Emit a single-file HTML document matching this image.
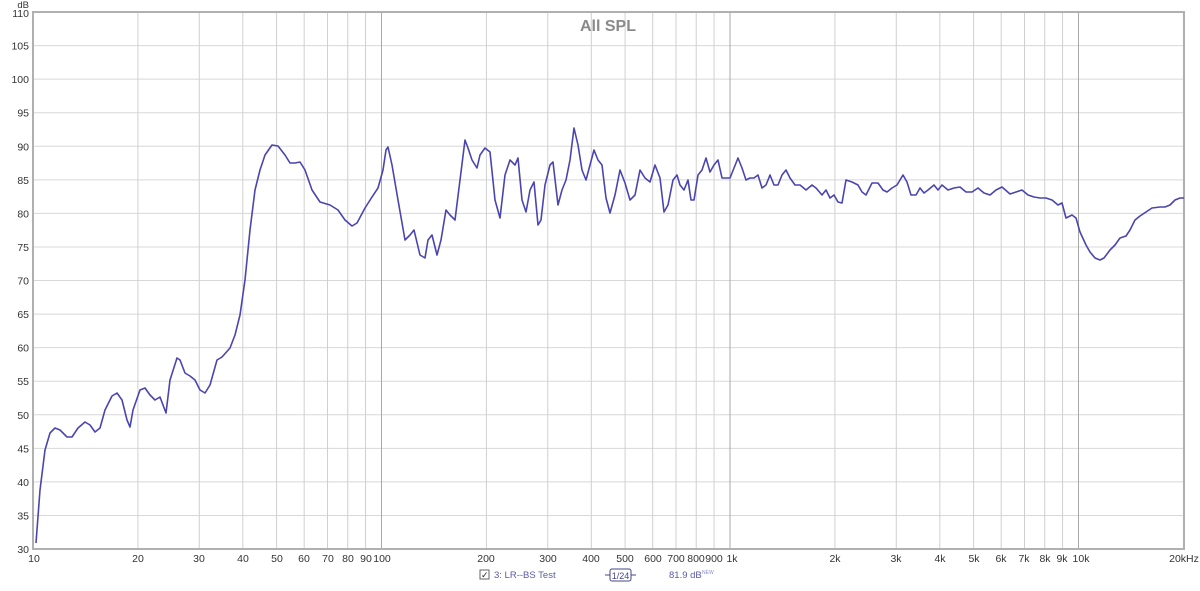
<!DOCTYPE html>
<html><head><meta charset="utf-8"><style>
html,body{margin:0;padding:0;background:#fff;}
svg text{font-family:"Liberation Sans",Arial,sans-serif;fill:#333;font-size:10.5px;}
</style></head><body>
<svg id="s" width="1200" height="586" viewBox="0 0 1200 586" xmlns="http://www.w3.org/2000/svg">
<rect width="1200" height="586" fill="#fff"/>
<g id="grid"></g>
<text x="608" y="31" text-anchor="middle" style="font-size:16px;font-weight:bold;fill:#8a8a8a">All SPL</text>
<g text-anchor="end">
<text x="29" y="8" style="font-size:9.5px">dB</text>
<text x="29" y="17">110</text><text x="29" y="49.6">105</text><text x="29" y="83.1">100</text>
<text x="29" y="116.7">95</text><text x="29" y="150.3">90</text><text x="29" y="183.8">85</text>
<text x="29" y="217.4">80</text><text x="29" y="250.9">75</text><text x="29" y="284.5">70</text>
<text x="29" y="318.1">65</text><text x="29" y="351.6">60</text><text x="29" y="385.2">55</text>
<text x="29" y="418.8">50</text><text x="29" y="452.3">45</text><text x="29" y="485.9">40</text>
<text x="29" y="519.4">35</text><text x="29" y="553">30</text>
</g>
<g text-anchor="middle">
<text x="34" y="562">10</text><text x="138" y="562">20</text><text x="199" y="562">30</text>
<text x="243" y="562">40</text><text x="277" y="562">50</text><text x="304" y="562">60</text>
<text x="328" y="562">70</text><text x="348" y="562">80</text><text x="366" y="562">90</text>
<text x="382" y="562">100</text><text x="486" y="562">200</text><text x="548" y="562">300</text>
<text x="591" y="562">400</text><text x="625" y="562">500</text><text x="653" y="562">600</text>
<text x="676" y="562">700</text><text x="696" y="562">800</text><text x="714" y="562">900</text>
<text x="732" y="562">1k</text><text x="835" y="562">2k</text><text x="896" y="562">3k</text>
<text x="940" y="562">4k</text><text x="974" y="562">5k</text><text x="1001" y="562">6k</text>
<text x="1024" y="562">7k</text><text x="1045" y="562">8k</text><text x="1062" y="562">9k</text>
<text x="1081" y="562">10k</text><text x="1184" y="562">20kHz</text>
</g>
<rect x="480" y="570" width="9" height="9" fill="#fff" stroke="#666" stroke-width="1"/>
<text x="481" y="578" style="font-size:9px;fill:#222">✓</text>
<text x="494" y="578" style="font-size:9.5px;fill:#5a5aaa">3: LR--BS Test</text>
<rect x="610" y="569" width="21" height="12" rx="2" fill="#fff" stroke="#44448a" stroke-width="1"/>
<line x1="605" y1="575" x2="610" y2="575" stroke="#44448a"/><line x1="631" y1="575" x2="636" y2="575" stroke="#44448a"/>
<text x="620.5" y="579" text-anchor="middle" style="font-size:9px;fill:#44448a">1/24</text>
<text x="669" y="578" style="font-size:9.5px;fill:#5a5aaa">81.9 dB</text>
<text x="702" y="574" style="font-size:5px;fill:#8a8acc">NEW</text>
<rect x="33" y="12" width="1151" height="537" fill="none" stroke="#b0b0b0" stroke-width="2"/>
<polyline fill="none" stroke="#4a45b0" stroke-width="1.6" stroke-linejoin="round" points="36,543 40,490 45,450 50,433 55,428 60,430 67,437 72,437 78,428 85,422 90,425 95,432 100,428 105,410 112,396 117,393 122,400 127,420 130,427 133,410 140,390 145,388 150,395 155,400 160,397 166,413 170,380 177,358 180,360 185,373 190,376 195,380 200,390 205,393 210,385 217,360 222,357 230,348 235,335 240,315 245,280 250,230 255,190 260,170 265,155 272,145 278,146 285,155 290,163 295,163 300,162 305,170 312,190 320,202 330,205 338,210 345,220 352,226 357,223 365,208 372,197 378,188 383,170 386,150 388,147 392,165 398,200 405,240 410,235 414,230 420,255 425,258 428,240 432,235 437,255 441,240 446,210 450,215 455,220 460,180 465,140 468,148 472,160 477,168 480,155 485,148 490,152 495,200 500,218 505,175 510,160 515,165 518,158 522,200 526,212 530,190 534,182 538,225 541,220 545,185 550,165 553,162 558,205 562,190 566,180 570,160 574,128 578,145 582,170 586,180 590,165 594,150 598,160 602,165 606,198 610,213 615,195 620,170 625,183 630,200 635,195 640,170 645,178 650,182 655,165 660,178 664,212 668,205 673,180 677,175 680,185 684,190 688,180 691,200 694,200 698,175 702,170 706,158 710,172 714,165 718,160 722,178 726,178 730,178 734,168 738,158 742,168 746,180 750,178 754,178 758,175 762,188 766,185 770,175 774,185 778,185 782,175 786,170 790,178 795,185 800,185 806,190 812,185 816,188 822,195 826,190 830,198 834,195 838,202 842,203 846,180 852,182 858,185 862,192 866,195 872,183 878,183 883,190 887,192 892,188 897,185 903,175 907,182 911,195 916,195 920,188 924,193 928,190 934,185 938,190 942,185 948,190 954,188 960,187 966,192 972,192 978,188 984,193 990,195 996,190 1002,187 1010,194 1016,192 1022,190 1028,195 1034,197 1040,198 1046,198 1052,200 1058,205 1062,203 1066,218 1072,215 1076,218 1080,232 1086,245 1090,252 1095,258 1100,260 1104,258 1110,250 1115,245 1120,238 1126,236 1130,230 1135,220 1140,216 1146,212 1152,208 1160,207 1165,207 1170,205 1175,200 1180,198 1184,198"/>
</svg>
<script>
var g=document.getElementById('grid'),ns='http://www.w3.org/2000/svg';
function L(x1,y1,x2,y2,c){var l=document.createElementNS(ns,'line');l.setAttribute('x1',x1);l.setAttribute('y1',y1);l.setAttribute('x2',x2);l.setAttribute('y2',y2);l.setAttribute('stroke',c);l.setAttribute('stroke-width',1);g.appendChild(l);}
for(var v=30;v<=110;v+=5){var y=12+(110-v)*6.7125;L(33,y,1184,y,'#d8d8d8');}
for(var d=0;d<4;d++)for(var n=1;n<=9;n++){var x=33+348.5*(d+Math.log10(n));if(x>1184)break;L(x,12,x,549,n==1?'#a8a8a8':'#d0d0d0');}
</script>
</body></html>
